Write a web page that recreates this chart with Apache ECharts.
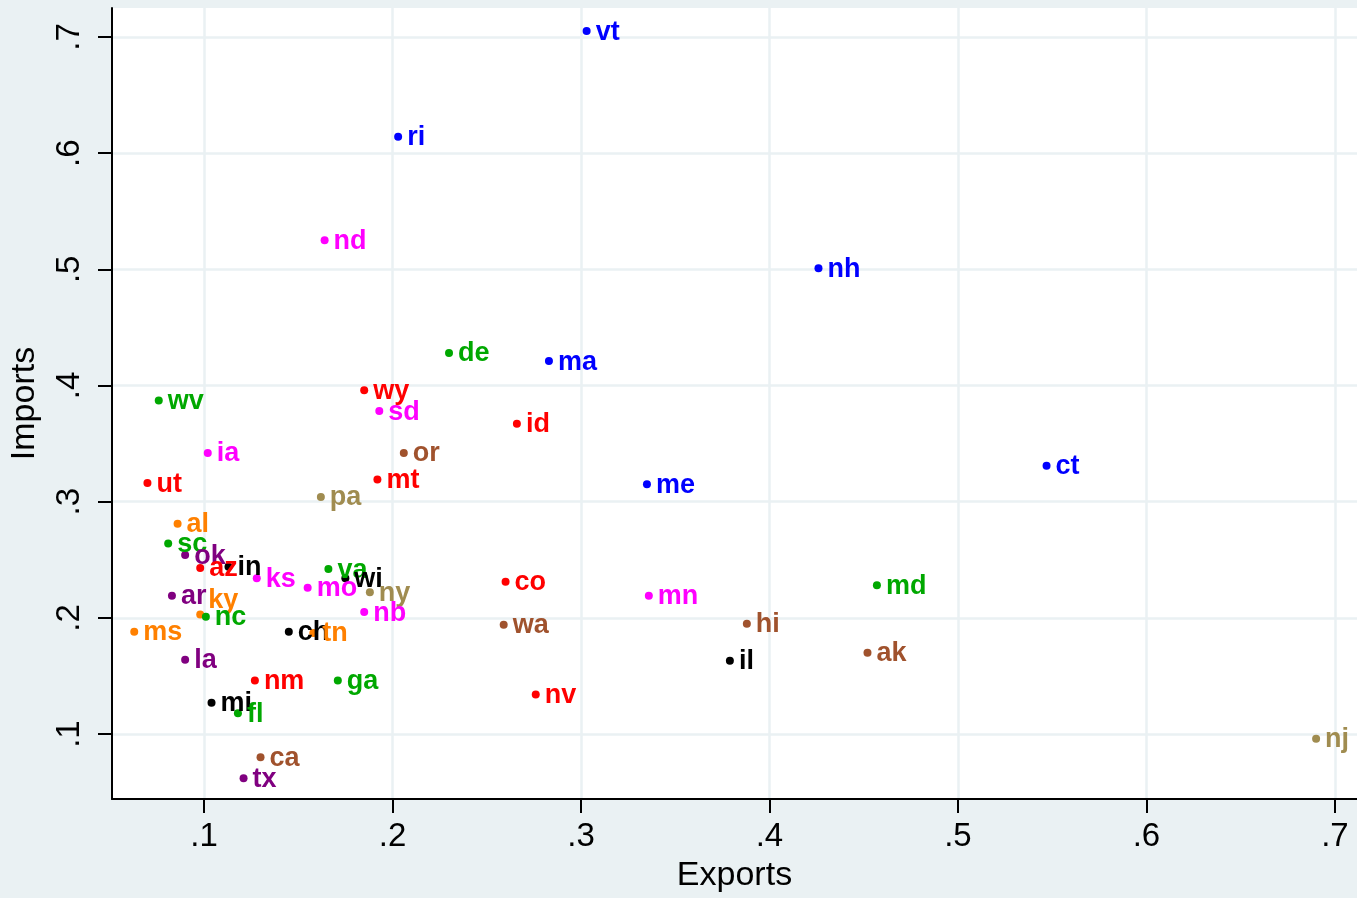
<!DOCTYPE html>
<html>
<head>
<meta charset="utf-8">
<script src="https://cdn.jsdelivr.net/npm/echarts@6/dist/echarts.min.js"></script>
<style>
  html, body { margin: 0; padding: 0; background: #eaf1f3; }
  #chart { width: 1357px; height: 898px; }
</style>
</head>
<body>
<div id="chart"></div>
<script>
// state codes, exports share, imports share, colour group
const states  = ['vt','ri','nd','nh','de','ma','wv','wy','sd','id','or','ia','ut','mt','me','ct','pa',
                 'al','sc','ok','az','in','ks','mo','va','wi','ny','nb','ar','ky','nc','ms','ch','tn',
                 'la','nm','ga','mi','fl','ca','tx','co','wa','nv','mn','hi','il','md','ak','nj'];
const exportsShare = [0.303,0.203,0.164,0.426,0.230,0.283,0.076,0.185,0.193,0.266,0.206,0.102,0.070,0.192,0.335,0.547,0.162,
                 0.086,0.081,0.090,0.098,0.113,0.128,0.155,0.166,0.175,0.188,0.185,0.083,0.098,0.101,0.063,0.145,0.158,
                 0.090,0.127,0.171,0.104,0.118,0.130,0.121,0.260,0.259,0.276,0.336,0.388,0.379,0.457,0.452,0.690];
const importsShare = [0.705,0.614,0.525,0.501,0.428,0.421,0.387,0.396,0.378,0.367,0.342,0.342,0.316,0.319,0.315,0.331,0.304,
                 0.281,0.264,0.254,0.243,0.244,0.234,0.226,0.242,0.234,0.222,0.205,0.219,0.203,0.201,0.188,0.188,0.187,
                 0.164,0.146,0.146,0.127,0.118,0.080,0.062,0.231,0.194,0.134,0.219,0.195,0.163,0.228,0.170,0.096];
const groups  = ['blue','blue','magenta','blue','green','blue','green','red','magenta','red','brown','magenta','red','red','blue','blue','olive',
                 'orange','green','purple','red','black','magenta','magenta','green','black','olive','magenta','purple','orange','green','orange','black','orange',
                 'purple','red','green','black','green','brown','purple','red','brown','red','magenta','brown','black','green','brown','olive'];
const tickValues = [0.1, 0.2, 0.3, 0.4, 0.5, 0.6, 0.7];

const palette = {
  blue: '#0000ff', magenta: '#ff00ff', green: '#00a800', red: '#ff0000',
  brown: '#a0522d', olive: '#a08c50', orange: '#ff8000', purple: '#800080', black: '#000000'
};

const fmt = v => v.toFixed(1).replace(/^0/, '');

const chart = echarts.init(document.getElementById('chart'));

const data = states.map((s, i) => {
  const label = { color: palette[groups[i]] };
  // ky's label sits up and to the right of its marker
  if (s === 'ky') label.offset = [-1, -14];
  return {
    name: s,
    value: [exportsShare[i], importsShare[i]],
    itemStyle: { color: palette[groups[i]], opacity: 1 },
    label: label
  };
});

const axisCommon = {
  type: 'value',
  nameLocation: 'middle',
  nameTextStyle: { fontFamily: 'Liberation Sans', fontSize: 34, color: '#000' },
  axisLine: { show: true, onZero: false, lineStyle: { color: '#000', width: 2 } },
  axisTick: { show: true, length: 14, customValues: tickValues, lineStyle: { color: '#000', width: 2 } },
  axisLabel: { customValues: tickValues, formatter: fmt, fontFamily: 'Liberation Sans', fontSize: 33, color: '#000' },
  splitLine: { show: true, lineStyle: { color: '#eaf1f3', width: 2.5 } }
};

chart.setOption({
  backgroundColor: '#eaf1f3',
  animation: false,
  grid: { left: 110, top: 8, right: 0, bottom: 95, show: true, backgroundColor: '#fff', borderWidth: 0 },
  xAxis: Object.assign({}, axisCommon, {
    name: 'Exports', nameGap: 60, min: 0.0512, max: 0.7117,
    axisLabel: Object.assign({}, axisCommon.axisLabel, { margin: 21 })
  }),
  yAxis: Object.assign({}, axisCommon, {
    name: 'Imports', nameGap: 70, min: 0.0441, max: 0.7249,
    axisLabel: Object.assign({}, axisCommon.axisLabel, { rotate: 90, margin: 26 })
  }),
  series: [{
    type: 'scatter',
    symbolSize: 8,
    itemStyle: { opacity: 1 },
    data: data,
    label: {
      show: true,
      position: 'right',
      distance: 5,
      offset: [0, 1],
      formatter: p => p.name,
      fontFamily: 'Liberation Sans',
      fontWeight: 'bold',
      fontSize: 27
    }
  }]
});
</script>
</body>
</html>
